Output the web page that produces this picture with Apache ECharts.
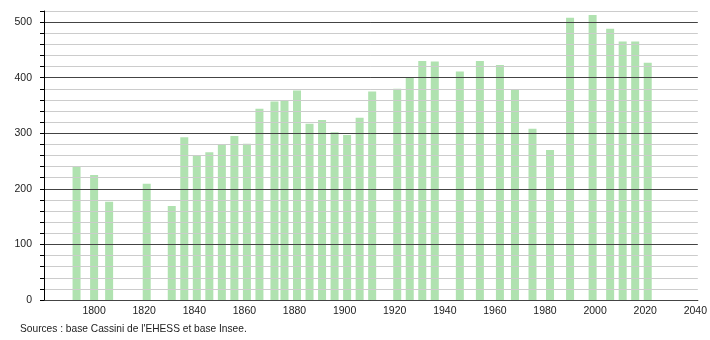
<!DOCTYPE html>
<html>
<head>
<meta charset="utf-8">
<script src="https://cdn.jsdelivr.net/npm/echarts@6/dist/echarts.min.js"></script>
<style>html,body{margin:0;padding:0;background:#fff}#c{width:710px;height:340px}</style>
</head>
<body>
<div id="c"></div>
<script>
const years = [1793,1800,1806,1821,1831,1836,1841,1846,1851,1856,1861,1866,1872,1876,1881,1886,1891,1896,1901,1906,1911,1921,1926,1931,1936,1946,1954,1962,1968,1975,1982,1990,1999,2006,2011,2016,2021];
const population = [241,225,177,209,169,293,261,266,280,295,281,344,357,360,377,317,324,302,297,328,375,380,400,430,429,411,430,423,379,308,270,508,513,488,465,465,427];
const xTickLabels = [1800,1820,1840,1860,1880,1900,1920,1940,1960,1980,2000,2020,2040];
const yTickLabels = [0,100,200,300,400,500];
const sourceText = "Sources : base Cassini de l'EHESS et base Insee.";

const chart = echarts.init(document.getElementById('c'));
const font = 'Liberation Sans, Arial, sans-serif';
chart.setOption({
  animation: false,
  grid: {left: 44, right: 10, top: 11, bottom: 40},
  xAxis: {
    type: 'value', min: 1780, max: 2041, interval: 20,
    axisLine: {show: true, onZero: false, lineStyle: {color: '#000', width: 1}},
    axisTick: {show: false},
    splitLine: {show: false},
    axisLabel: {
      color: '#222', fontFamily: font, fontSize: 10.5, margin: 6,
      showMinLabel: true, showMaxLabel: false,
      formatter: v => xTickLabels.includes(v) ? String(v) : ''
    }
  },
  yAxis: {
    type: 'value', min: 0, max: 520, interval: 20, position: 'left',
    axisLine: {show: true, onZero: false, lineStyle: {color: '#000', width: 1}},
    axisTick: {show: true, length: 4, lineStyle: {color: '#000', width: 1}},
    splitLine: {show: true, lineStyle: {color: ['#444','#ccc','#ccc','#ccc','#ccc'], width: 1}},
    axisLabel: {
      color: '#222', fontFamily: font, fontSize: 10.5, margin: 12,
      formatter: v => yTickLabels.includes(v) ? String(v) : ''
    },
    z: 5
  },
  series: [{
    type: 'bar',
    barWidth: 8,
    itemStyle: {color: '#b0e2b0'},
    data: years.map((y, i) => [y, population[i]])
  }],
  graphic: [{
    type: 'text', left: 20, top: 324,
    style: {text: sourceText, fill: '#222', font: '10.2px ' + font}
  }]
});
</script>
</body>
</html>
